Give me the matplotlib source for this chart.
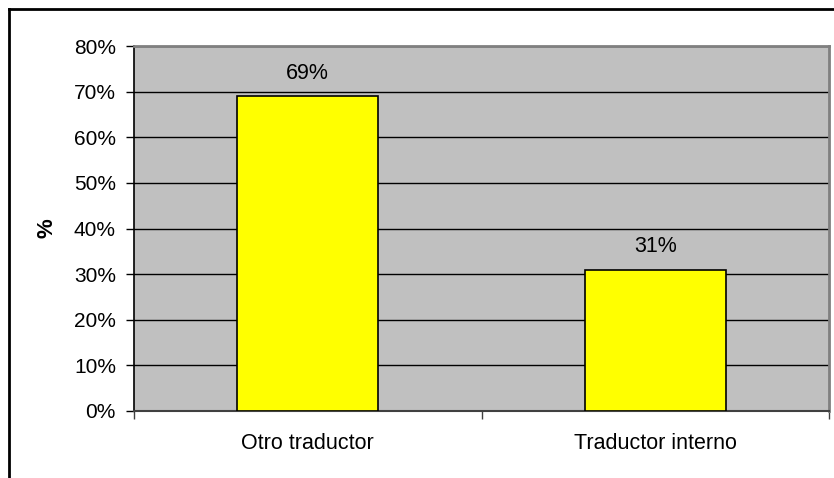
import matplotlib.pyplot as plt
from matplotlib.lines import Line2D

categories = ["Otro traductor", "Traductor interno"]
percentages = [69, 31]
y_ticks = [0, 10, 20, 30, 40, 50, 60, 70, 80]

plt.rcParams['font.family'] = ['Liberation Sans', 'DejaVu Sans']

fig = plt.figure(figsize=(8.34, 4.78), dpi=100)
ax = fig.add_axes([134 / 834, 1 - 411 / 478, 695 / 834, 365 / 478])

ax.set_facecolor('#C0C0C0')
positions = range(len(categories))
ax.bar(positions, percentages, width=0.405, color='#FFFF00',
       edgecolor='black', linewidth=1.2, zorder=3)

for x, v in zip(positions, percentages):
    ax.text(x, v + 3.8, f"{v}%", ha='center', va='baseline', fontsize=15.5, zorder=4)

ax.set_xlim(-0.5, len(categories) - 0.5)
ax.set_ylim(0, 80)
ax.set_yticks(y_ticks)
ax.set_yticklabels([f"{t}%" for t in y_ticks], fontsize=15)
ax.yaxis.grid(True, color='black', linewidth=1, zorder=1)
ax.set_axisbelow(True)

# category labels sit between the tick marks at the category boundaries
ax.set_xticks([x - 0.5 for x in range(len(categories) + 1)])
ax.set_xticklabels([])
ax.set_xticks(list(positions), minor=True)
ax.set_xticklabels(categories, minor=True, fontsize=15.5)
ax.tick_params(axis='x', which='minor', length=0, pad=16)
ax.tick_params(axis='x', which='major', length=6, width=1, color='#404040')
ax.tick_params(axis='y', length=6, width=1, pad=7)

ax.set_ylabel("%", fontsize=16, fontweight='bold', labelpad=12)

ax.spines['left'].set_color('black')
ax.spines['bottom'].set_color('#404040')
ax.spines['top'].set_color('#808080')
ax.spines['right'].set_color('#808080')
ax.spines['top'].set_linewidth(2)
ax.spines['right'].set_linewidth(2)
ax.spines['bottom'].set_linewidth(1.5)
ax.spines['left'].set_linewidth(1.2)

# outer chart border (top and left edges visible)
fig.add_artist(Line2D([9 / 834, 1.0], [1 - 9 / 478, 1 - 9 / 478],
                      transform=fig.transFigure, color='black', linewidth=2))
fig.add_artist(Line2D([9 / 834, 9 / 834], [0, 1 - 9 / 478],
                      transform=fig.transFigure, color='black', linewidth=2))

fig.savefig('out.png', dpi=100)
